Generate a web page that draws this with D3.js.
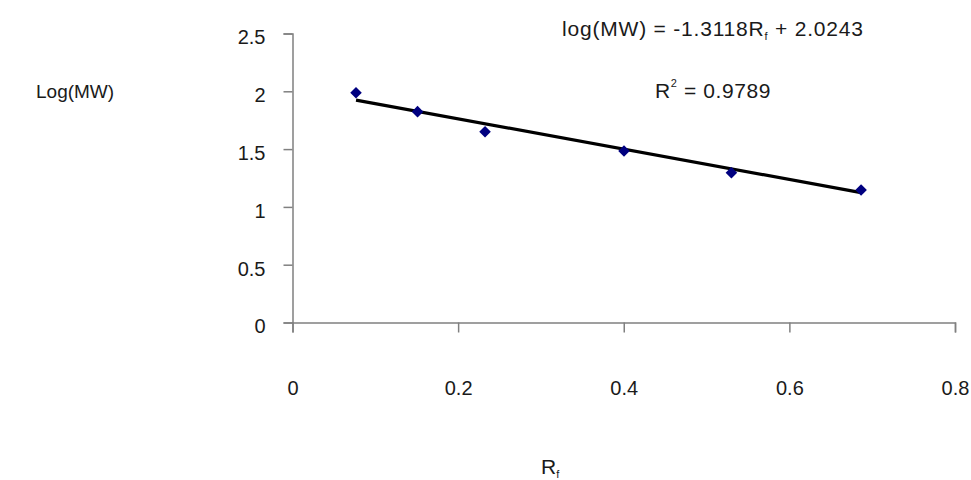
<!DOCTYPE html>
<html>
<head>
<meta charset="utf-8">
<script src="https://cdn.jsdelivr.net/npm/d3@7"></script>
<style>
  body { margin: 0; background: #fff; }
  text { font-family: "Liberation Sans", Arial, sans-serif; fill: #1a1a1a; }
</style>
</head>
<body>
<svg id="chart" width="971" height="480"></svg>
<script>
// Rf values and log(MW) of the markers
const rf = [0.0767, 0.151, 0.2325, 0.4003, 0.530, 0.6866]
const logMW = [1.988, 1.824, 1.65, 1.483, 1.296, 1.146]
const xTicks = [0, 0.2, 0.4, 0.6, 0.8]
const yTicks = [0, 0.5, 1, 1.5, 2, 2.5]
// trendline from the equation on the chart
const slope = -1.3118
const intercept = 2.0243

const svg = d3.select("#chart")

const x = d3.scaleLinear().domain([0, 0.8]).range([292.5, 955])
const y = d3.scaleLinear().domain([0, 2.5]).range([322.5, 33.5])

// y axis
const yAxis = svg.append("g")
  .attr("transform", "translate(292.5,0)")
  .call(d3.axisLeft(y).tickValues(yTicks).tickSize(9).tickPadding(18).tickFormat(d3.format("")))
yAxis.select(".domain").attr("stroke", "#808080").attr("stroke-width", 1.5)
yAxis.selectAll(".tick line").attr("stroke", "#808080").attr("stroke-width", 1.5)
yAxis.selectAll(".tick text").style("font-size", "20px").style("font-family", "Liberation Sans")
  .attr("fill", "#1a1a1a").attr("dy", "0.52em")

// x axis
const xAxis = svg.append("g")
  .attr("transform", "translate(0,322.5)")
  .call(d3.axisBottom(x).tickValues(xTicks).tickSize(10).tickPadding(48).tickSizeOuter(10).tickFormat(d3.format("")))
xAxis.select(".domain").attr("stroke", "#808080").attr("stroke-width", 1.5)
xAxis.selectAll(".tick line").attr("stroke", "#808080").attr("stroke-width", 1.5)
xAxis.selectAll(".tick text").style("font-size", "20px").style("font-family", "Liberation Sans").attr("fill", "#1a1a1a")

// trendline
const x0 = d3.min(rf), x1 = d3.max(rf)
svg.append("line")
  .attr("x1", x(x0)).attr("y1", y(slope * x0 + intercept))
  .attr("x2", x(x1)).attr("y2", y(slope * x1 + intercept))
  .attr("stroke", "#000").attr("stroke-width", 3.2)

// markers
svg.selectAll(".pt")
  .data(rf.map((v, i) => [v, logMW[i]]))
  .enter()
  .append("path")
  .attr("class", "pt")
  .attr("d", d3.symbol().type(d3.symbolDiamond2).size(85))
  .attr("transform", d => `translate(${x(d[0])},${y(d[1])})`)
  .attr("fill", "#000080")

// titles
svg.append("text").attr("x", 36).attr("y", 98).style("font-size", "19px").text("Log(MW)")

const rt = svg.append("text").attr("x", 541).attr("y", 474).style("font-size", "21px")
rt.append("tspan").text("R")
rt.append("tspan").attr("dy", 4).style("font-size", "11px").text("f")

const eq = svg.append("text").attr("x", 562).attr("y", 36).style("font-size", "21px").style("letter-spacing", "0.8px")
eq.append("tspan").text("log(MW) = -1.3118R")
eq.append("tspan").attr("dy", 4).style("font-size", "11px").text("f")
eq.append("tspan").attr("dy", -4).text(" + 2.0243")

const r2 = svg.append("text").attr("x", 655).attr("y", 98).style("font-size", "21px").style("letter-spacing", "0.6px")
r2.append("tspan").text("R")
r2.append("tspan").attr("dy", -11).style("font-size", "11px").text("2")
r2.append("tspan").attr("dy", 11).text(" = 0.9789")
</script>
</body>
</html>
